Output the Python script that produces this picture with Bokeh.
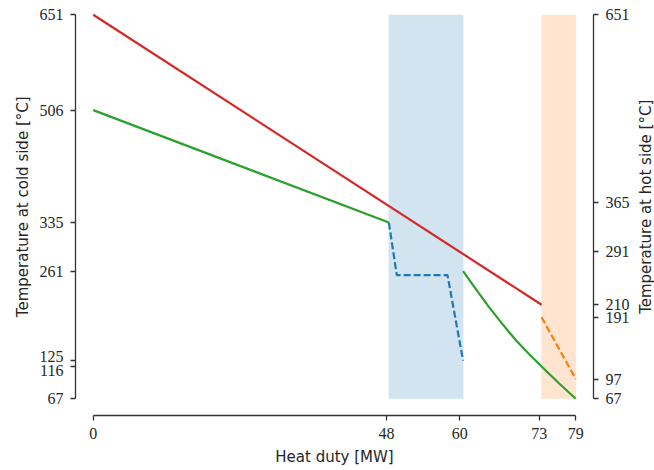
import math
from bokeh.plotting import figure
from bokeh.models import Range1d, LinearAxis, FixedTicker, Label
from bokeh.layouts import row
from bokeh.embed import file_html
from bokeh.resources import INLINE

# ---- data ----
hot_x = [0, 73.4]
hot_y = [651, 210]

cold1_x = [0, 48.4]
cold1_y = [506, 335]

blue_x = [48.4, 49.7, 58.0, 60.55]
blue_y = [335, 255, 255, 125]

cold2_x = [60.55, 62.7, 64.8, 67.0, 69.2, 71.3, 73.4, 76.2, 79.0]
cold2_y = [261, 233, 206.5, 180.5, 156, 135.5, 116, 91, 67]

orange_x = [73.4, 79.0]
orange_y = [191, 97]

blue_band = [48.35, 60.6]
orange_band = [73.35, 79.05]
band_y = [67, 651]

x_ticks = [0, 48, 60, 73, 79]
left_ticks = [67, 116, 125, 261, 335, 506, 651]
right_ticks = [67, 97, 191, 210, 291, 365, 651]

x_label = "Heat duty [MW]"
left_label = "Temperature at cold side [°C]"
right_label = "Temperature at hot side [°C]"

# ---- layout constants ----
H = 470
LW, RW = 32, 18            # side strips holding the rotated axis titles
MB_L, MB_R, MB_T, MB_B = 43, 43, 10, 55
FW, FH = 518, 405
x0, x1 = -2.9, 81.9
y0, y1 = 41.6, 657.5

ax_color = "#333333"
txt_color = "#262626"
tick_font = "Liberation Serif"
label_font = "DejaVu Sans"
label_size = "15px"

p = figure(width=MB_L + FW + MB_R, height=H, output_backend="svg",
           toolbar_location=None, x_range=Range1d(x0, x1), y_range=Range1d(y0, y1),
           min_border_left=MB_L, min_border_right=MB_R, min_border_top=MB_T,
           min_border_bottom=MB_B, frame_width=FW, frame_height=FH)
p.outline_line_color = None
p.xgrid.visible = False
p.ygrid.visible = False

p.quad(left=[blue_band[0]], right=[blue_band[1]], bottom=[band_y[0]], top=[band_y[1]],
       fill_color="#1f77b4", fill_alpha=0.2, line_color=None)
p.quad(left=[orange_band[0]], right=[orange_band[1]], bottom=[band_y[0]], top=[band_y[1]],
       fill_color="#ff7f0e", fill_alpha=0.2, line_color=None)

lw = 2.2
p.line(hot_x, hot_y, line_color="#d62728", line_width=lw)
p.line(cold1_x, cold1_y, line_color="#2ca02c", line_width=lw)
p.line(blue_x, blue_y, line_color="#1f77b4", line_width=lw, line_dash="7 3")
p.line(cold2_x, cold2_y, line_color="#2ca02c", line_width=lw)
p.line(orange_x, orange_y, line_color="#ff7f0e", line_width=lw, line_dash="7 3")


def style(ax, bounds, ticks, label):
    ax.bounds = bounds
    ax.ticker = FixedTicker(ticks=ticks)
    ax.minor_tick_line_color = None
    ax.major_tick_in = 0
    ax.major_tick_out = 5
    ax.axis_line_color = ax_color
    ax.axis_line_width = 1.3
    ax.major_tick_line_color = ax_color
    ax.major_tick_line_width = 1.3
    ax.major_label_text_font = tick_font
    ax.major_label_text_font_size = "16px"
    ax.major_label_text_color = txt_color
    ax.major_label_standoff = 7
    if label:
        ax.axis_label = label
        ax.axis_label_text_font = label_font
        ax.axis_label_text_font_size = label_size
        ax.axis_label_text_font_style = "normal"
        ax.axis_label_text_color = txt_color
        ax.axis_label_standoff = 6


style(p.xaxis[0], (0, 79), x_ticks, x_label)
style(p.yaxis[0], (67, 651), left_ticks, None)
# the two crowded labels are pushed apart as in the reference
p.yaxis[0].major_label_overrides = {125: "125\n", 116: "\n116"}
p.yaxis[0].major_label_text_line_height = 0.5

right = LinearAxis()
p.add_layout(right, "right")
style(right, (67, 651), right_ticks, None)


def side(width, cx, text):
    # same vertical frame as the main plot, so the title sits at the data mid-height
    s = figure(width=width, height=H, output_backend="svg", toolbar_location=None,
               x_range=Range1d(0, width), y_range=Range1d(y0, y1),
               x_axis_location=None, y_axis_location=None,
               min_border_left=0, min_border_right=0,
               min_border_top=MB_T, min_border_bottom=MB_B,
               frame_width=width, frame_height=FH)
    s.outline_line_color = None
    s.xgrid.visible = False
    s.ygrid.visible = False
    s.add_layout(Label(x=cx, y=(band_y[0] + band_y[1]) / 2, text=text, angle=math.pi / 2,
                       text_align="center", text_baseline="middle",
                       text_font=label_font, text_font_size=label_size,
                       text_color=txt_color))
    return s


left_fig = side(LW, 22, left_label)
right_fig = side(RW, 9, right_label)

layout = row(left_fig, p, right_fig, spacing=0)
open("out.html", "w").write(file_html(layout, INLINE))
